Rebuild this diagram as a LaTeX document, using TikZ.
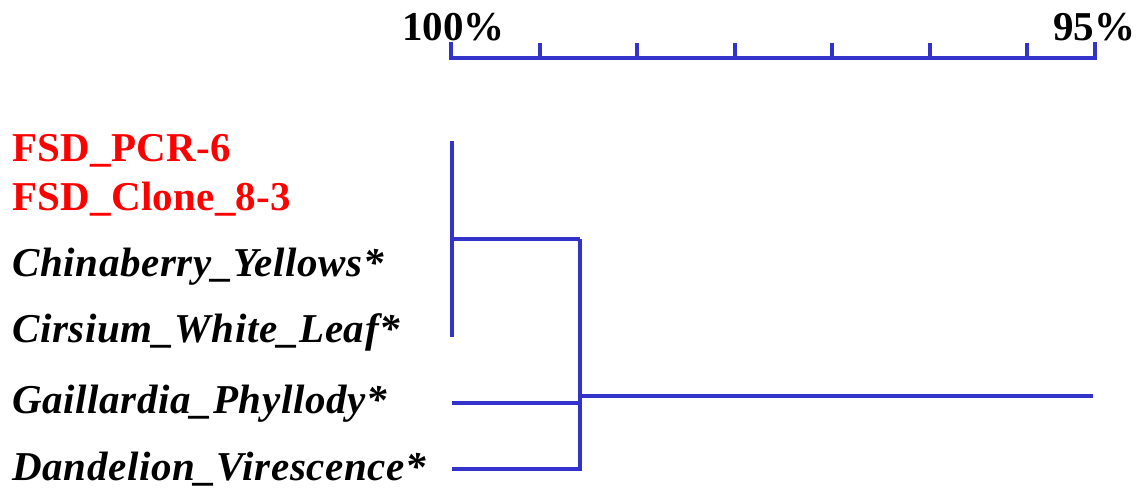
\documentclass[tikz,border=0pt]{standalone}
\usepackage{fontspec}
\setmainfont{Liberation Serif}
\newfontfamily\spacedserif[LetterSpace=1.6]{Liberation Serif}
\newfontfamily\slightserif[LetterSpace=0.7]{Liberation Serif}
\definecolor{dblue}{RGB}{51,51,204}
\definecolor{dred}{RGB}{255,0,0}
\begin{document}
\begin{tikzpicture}[x=1pt,y=-1pt,
  lbl/.style={anchor=base west,inner sep=0pt,font=\fontsize{41}{49}\selectfont\bfseries},
  red lbl/.style={lbl,text=dred,font=\fontsize{41}{49}\slightserif\bfseries},
  sp lbl/.style={lbl,font=\fontsize{41}{49}\spacedserif\bfseries\itshape},
  branch/.style={draw=dblue,line width=4pt},
  axis/.style={draw=dblue,line width=4pt,line cap=butt}]
\useasboundingbox (0,0) rectangle (1136,490);
% axis
\node[lbl,anchor=base west] (p100) at (402,40) {100\%};
\node[lbl,anchor=base west] (p95) at (1053,40) {95\%};
\coordinate (a0) at (451,42);
\coordinate (a1) at (1095,42);
\draw[axis,line join=miter] (a0) -- (451,58) -- (1095,58) -- (a1);
\foreach \x in {540,637.4,734.8,832.2,929.6,1027}
  \draw[axis] (\x,43) -- (\x,58);
% labels
\node[red lbl] (l1) at (12,161.7) {FSD\_PCR-6};
\node[red lbl] (l2) at (12,210.7) {FSD\_Clone\_8-3};
\node[sp lbl] (l3) at (12,276) {Chinaberry\_Yellows*};
\node[sp lbl] (l4) at (12,342.7) {Cirsium\_White\_Leaf*};
\node[sp lbl] (l5) at (12,413.3) {Gaillardia\_Phyllody*};
\node[sp lbl] (l6) at (12,480.7) {Dandelion\_Virescence*};
% dendrogram
\coordinate (c1top) at (452,141);
\coordinate (c1bot) at (452,337);
\coordinate (c1mid) at (452,239.3);
\coordinate (j1) at (580,239.3);
\coordinate (j2) at (580,469);
\coordinate (g) at (452,403.3);
\coordinate (gj) at (580,403.3);
\coordinate (d) at (452,469);
\coordinate (root) at (580,395.7);
\coordinate (rootend) at (1093,395.7);
\draw[branch] (c1top) -- (c1bot);
\draw[branch] (c1mid) -- (j1);
\draw[branch,line join=miter] (j1) -- (j2) -- (d);
\draw[branch] (g) -- (gj);
\draw[branch] (root) -- (rootend);
\end{tikzpicture}
\end{document}
